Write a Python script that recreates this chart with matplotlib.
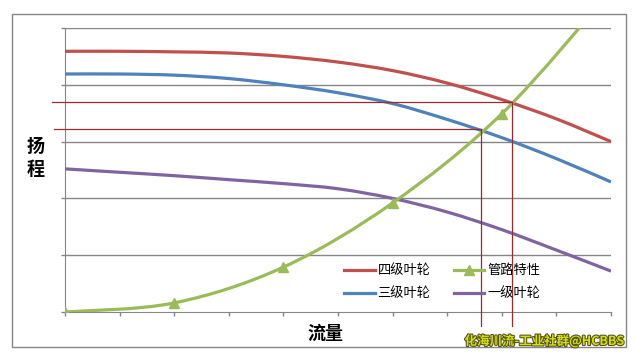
import matplotlib
matplotlib.use('Agg')
import matplotlib.pyplot as plt
import matplotlib.patches as patches
import matplotlib.patheffects as pe
from matplotlib.path import Path
from matplotlib.lines import Line2D

plt.rcParams['font.family'] = ['Noto Sans CJK SC', 'DejaVu Sans']

# flow (x) positions, 0..10
flow = [0, 1, 2, 3, 4, 5, 6, 7, 8, 9, 10]
head_4 = [4.59, 4.59, 4.58, 4.56, 4.50, 4.40, 4.25, 4.03, 3.74, 3.40, 3.00]
head_3 = [4.19, 4.19, 4.17, 4.11, 4.00, 3.86, 3.67, 3.39, 3.07, 2.70, 2.29]
head_1 = [2.52, 2.46, 2.40, 2.33, 2.26, 2.17, 2.00, 1.76, 1.45, 1.09, 0.72]

pipe_flow = [0, 2, 4, 6, 8, 10]
pipe_head = [0.0, 0.16, 0.79, 1.92, 3.49, 5.65]

# operating points (intersections)
op_x = [8.19, 7.62]
op_y = [3.69, 3.22]

labels = ['四级叶轮', '三级叶轮', '管路特性', '一级叶轮']


def smooth_path(xs, ys):
    # excel-like smoothed line as cubic bezier through the points
    pts = list(zip(xs, ys))
    verts = [pts[0]]
    codes = [Path.MOVETO]
    for i in range(len(pts) - 1):
        p0 = pts[i - 1] if i > 0 else pts[i]
        p1 = pts[i]
        p2 = pts[i + 1]
        p3 = pts[i + 2] if i + 2 < len(pts) else pts[i + 1]
        c1 = (p1[0] + (p2[0] - p0[0]) / 6, p1[1] + (p2[1] - p0[1]) / 6)
        c2 = (p2[0] - (p3[0] - p1[0]) / 6, p2[1] - (p3[1] - p1[1]) / 6)
        verts += [c1, c2, p2]
        codes += [Path.CURVE4] * 3
    return Path(verts, codes)


fig = plt.figure(figsize=(6.34, 3.57), dpi=100)
ax = fig.add_axes([65/634, 45/357, 546/634, 284/357])

# outer frame
fig.patches.append(patches.Rectangle((12/634, 10/357), 614/634, 333/357,
                                     transform=fig.transFigure, fill=False,
                                     edgecolor='#868686', linewidth=1))

ax.set_xlim(0, 10)
ax.set_ylim(0, 5)
for y in range(1, 6):
    ax.axhline(y, color='#868686', linewidth=1, zorder=1)

c4, c3, c1, cp = '#C0504D', '#4F81BD', '#8064A2', '#9BBB59'
lw = 2.3
for xs, ys, c in [(flow, head_4, c4), (flow, head_3, c3),
                  (flow, head_1, c1), (pipe_flow, pipe_head, cp)]:
    ax.add_patch(patches.PathPatch(smooth_path(xs, ys), fill=False,
                                   edgecolor=c, linewidth=lw, zorder=3,
                                   capstyle='butt'))
ax.plot(pipe_flow, pipe_head, linestyle='none', marker='^', markersize=7,
        color=cp, zorder=4)

# operating point guide lines
red = '#9B2B2F'
x_starts = [-0.24, -0.2]
for ox, oy, xs in zip(op_x, op_y, x_starts):
    ax.plot([xs, ox], [oy, oy], color=red, linewidth=0.9, clip_on=False, zorder=5)
    ax.plot([ox, ox], [oy, -0.24], color=red, linewidth=0.9, clip_on=False, zorder=5)

handles = [Line2D([], [], color=c4, lw=lw), Line2D([], [], color=c3, lw=lw),
           Line2D([], [], color=cp, lw=lw, marker='^', markersize=7),
           Line2D([], [], color=c1, lw=lw)]
ax.legend(handles, labels, ncol=2, frameon=False,
          loc='lower left', bbox_to_anchor=(0.49, 0.0),
          fontsize=9.5, handlelength=2.3, handletextpad=0.2,
          columnspacing=1.8, labelspacing=0.75)

for s in ['top', 'right']:
    ax.spines[s].set_visible(False)
for s in ['left', 'bottom']:
    ax.spines[s].set_color('#868686')
ax.set_xticks(range(0, 11))
ax.set_yticks(range(0, 6))
ax.tick_params(axis='both', colors='#868686', length=3, width=1,
               labelbottom=False, labelleft=False)

fig.text(36/634, 1 - 158/357, '扬\n程', fontsize=13, fontweight='bold',
         ha='center', va='center', linespacing=1.3)
fig.text(325/634, 1 - 333/357, '流量', fontsize=13, fontweight='bold',
         ha='center', va='center')
fig.text(624/634, 1 - 341/357, '化海川流-工业社群@HCBBS', fontsize=9,
         fontweight='bold', color='#D8E000', ha='right', va='center',
         path_effects=[pe.withStroke(linewidth=1.5, foreground='#505020')])

fig.savefig('out.png', dpi=100)
